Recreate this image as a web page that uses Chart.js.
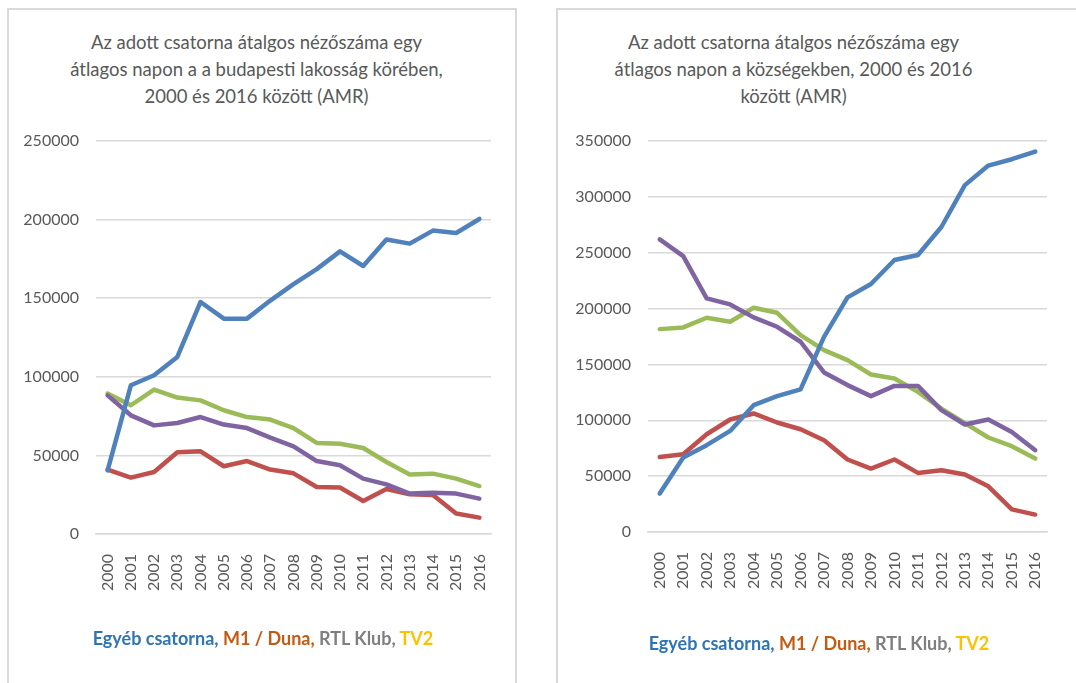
<!DOCTYPE html>
<html>
<head>
<meta charset="utf-8">
<script src="https://cdn.jsdelivr.net/npm/chart.js@4/dist/chart.umd.min.js"></script>
<style>
    body { margin: 0; background: #fff; font-family: Lato, "Open Sans", sans-serif; }
    .frame { position: absolute; border: 2px solid #d9d9d9; box-sizing: border-box; }
    .title { position: absolute; text-align: center; color: #595959; font-size: 18.5px; line-height: 27px; }
    .legend { position: absolute; text-align: center; font-weight: bold; font-size: 18px; line-height: 24px; white-space: nowrap; }
    canvas { position: absolute; }
</style>
</head>
<body>

<div class="frame" style="left:7px; top:8px; width:510px; height:700px;"></div>
<div class="frame" style="left:556px; top:8px; width:560px; height:700px;"></div>

<div class="title" style="left:8px; top:29px; width:497px;">
    Az adott csatorna átalgos nézőszáma egy<br>átlagos napon a a budapesti lakosság körében,<br>2000 és 2016 között (AMR)
</div>
<div class="title" style="left:583px; top:29px; width:421px;">
    Az adott csatorna átalgos nézőszáma egy<br>átlagos napon a községekben, 2000 és 2016<br>között (AMR)
</div>

<canvas id="budapestChart" width="507" height="674" style="left:8px; top:9px;"></canvas>
<canvas id="kozsegChart" width="519" height="674" style="left:557px; top:9px;"></canvas>

<div class="legend" style="left:63px; top:626px; width:400px;">
    <span style="color:#2e75b6">Egyéb csatorna,</span> <span style="color:#c55a11">M1 / Duna,</span> <span style="color:#7f7f7f">RTL Klub,</span> <span style="color:#ffc000">TV2</span>
</div>
<div class="legend" style="left:619px; top:631px; width:400px;">
    <span style="color:#2e75b6">Egyéb csatorna,</span> <span style="color:#c55a11">M1 / Duna,</span> <span style="color:#7f7f7f">RTL Klub,</span> <span style="color:#ffc000">TV2</span>
</div>

<script>
// --- adatok ---
const years = ['2000', '2001', '2002', '2003', '2004', '2005', '2006', '2007', '2008',
               '2009', '2010', '2011', '2012', '2013', '2014', '2015', '2016'];

const seriesNames = ['Egyéb csatorna', 'M1 / Duna', 'RTL Klub', 'TV2'];

// Budapest
const budapestEgyeb = [40500, 94600, 101000, 112600, 147600, 137000, 137000, 148500, 159000,
                       168500, 179800, 170500, 187300, 184700, 193000, 191500, 200400];
const budapestM1    = [41000, 35900, 39400, 52000, 52600, 43100, 46400, 41000, 38600,
                       29900, 29600, 21000, 28600, 25300, 24800, 13000, 10400];
const budapestRtl   = [88200, 75500, 69100, 70600, 74400, 69600, 67400, 61300, 55800,
                       46400, 43700, 35200, 31600, 25700, 26300, 25700, 22500];
const budapestTv2   = [89300, 81900, 91900, 86800, 85000, 78700, 74400, 72800, 67400,
                       57900, 57400, 54700, 45800, 37800, 38400, 35200, 30500];

// községek
const kozsegEgyeb = [34400, 66700, 77700, 90500, 113500, 121600, 127600, 174700, 210000,
                     222000, 243500, 248000, 273000, 310500, 328000, 333700, 340500];
const kozsegM1    = [67200, 69600, 87500, 100700, 106100, 98000, 92000, 82200, 64900,
                     56800, 64900, 52900, 55300, 51400, 40900, 20300, 15600];
const kozsegRtl   = [262000, 247000, 209100, 203700, 192100, 183700, 170300, 142800, 131500,
                     121600, 130800, 130800, 109100, 96200, 100700, 89600, 73200];
const kozsegTv2   = [181600, 183100, 191800, 188200, 200700, 196200, 176300, 162800, 153900,
                     141000, 137400, 125400, 110500, 97500, 84600, 76800, 65800];

const lineColors = ['#4f81bd', '#c0504d', '#8064a2', '#9bbb59'];
const drawOrder = [0, 2, 1, 3]; // kék legfelül, zöld legalul

function makeChart(canvasId, seriesData, yMax, yWidth, rightPad, topPad, xHeight) {
    const ctx = document.getElementById(canvasId).getContext('2d');

    const datasets = seriesData.map((values, i) => ({
        label: seriesNames[i],
        data: values,
        borderColor: lineColors[i],
        backgroundColor: lineColors[i],
        borderWidth: 4.5,
        pointRadius: 0,
        borderJoinStyle: 'round',
        borderCapStyle: 'round',
        tension: 0,
        order: drawOrder[i]
    }));

    return new Chart(ctx, {
        type: 'line',
        data: { labels: years, datasets: datasets },
        options: {
            responsive: false,
            animation: false,
            layout: { padding: { top: topPad, right: rightPad, left: 0, bottom: 0 } },
            scales: {
                x: {
                    offset: true,
                    grid: { display: false },
                    border: { display: true, color: '#d9d9d9', width: 1.5 },
                    ticks: {
                        color: '#595959',
                        font: { family: 'Lato', size: 16 },
                        minRotation: 90,
                        maxRotation: 90,
                        padding: 12,
                        autoSkip: false
                    },
                    afterFit: scale => { scale.height = xHeight; }
                },
                y: {
                    min: 0,
                    max: yMax,
                    grid: { color: '#d9d9d9', lineWidth: 1.5, drawTicks: false },
                    border: { display: false },
                    ticks: {
                        stepSize: 50000,
                        color: '#595959',
                        font: { family: 'Lato', size: 16 },
                        padding: 17,
                        callback: v => String(v)
                    },
                    afterFit: scale => { scale.width = yWidth; }
                }
            },
            plugins: {
                legend: { display: false },
                title: { display: false },
                tooltip: { enabled: false }
            }
        }
    });
}

makeChart('budapestChart',
    [budapestEgyeb, budapestM1, budapestRtl, budapestTv2],
    250000, 88, 24, 132, 149);

makeChart('kozsegChart',
    [kozsegEgyeb, kozsegM1, kozsegRtl, kozsegTv2],
    350000, 91, 29, 132, 151);
</script>
</body>
</html>
